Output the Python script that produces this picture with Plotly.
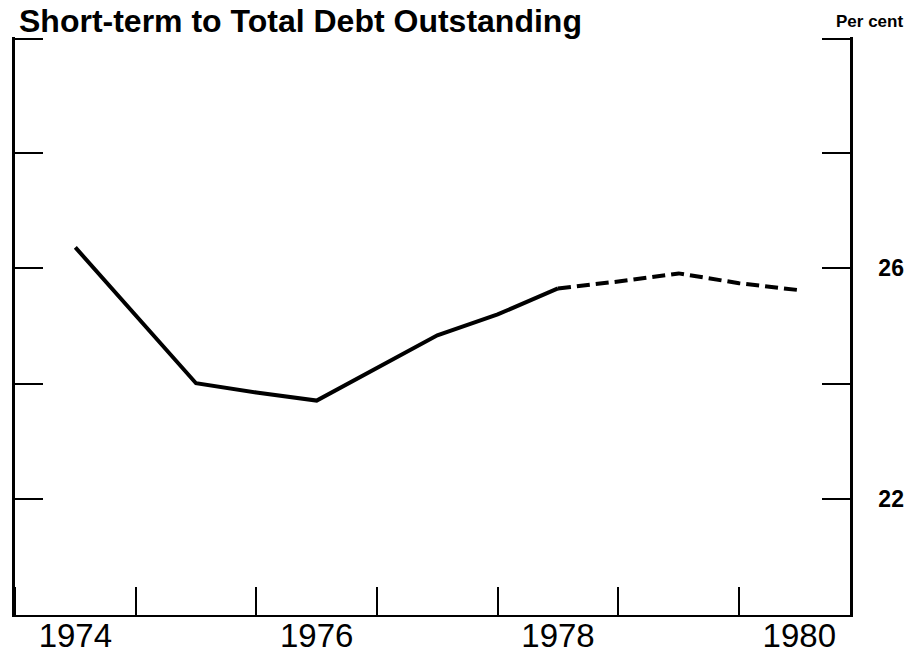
import plotly.graph_objs as go

# semi-annual readings, per cent
solid_x = [1974, 1975, 1975.5, 1976, 1977, 1977.5, 1978]
solid_y = [26.36, 24.01, 23.85, 23.71, 24.84, 25.20, 25.65]
dash_x = [1978, 1978.5, 1979, 1979.5, 1980]
dash_y = [25.65, 25.77, 25.91, 25.74, 25.62]

year_ticks = [1974, 1976, 1978, 1980]
y_ticks = [22, 24, 26, 28, 29.96]
y_labels = ['22', '', '26', '', '']

fig = go.Figure()
fig.add_trace(go.Scatter(x=solid_x, y=solid_y, mode='lines',
                         line=dict(color='black', width=4)))
fig.add_trace(go.Scatter(x=dash_x, y=dash_y, mode='lines', yaxis='y2',
                         line=dict(color='black', width=4, dash='13px,6px')))

# page body has an 8px margin, so the figure is a bit smaller than the window
fig.update_layout(
    width=908, height=647,
    margin=dict(l=7, r=66, t=29, b=40),
    plot_bgcolor='white', paper_bgcolor='white',
    showlegend=False,
    font=dict(family='Liberation Sans, Arial, sans-serif', color='black'),
    xaxis=dict(range=[1973.5, 1980.42], showgrid=False, zeroline=False, automargin=False,
               showline=True, linecolor='black', linewidth=2,
               tickvals=year_ticks, ticks='', tickfont=dict(size=33),
               ticklabelstandoff=-10,
               minor=dict(tick0=1974.5, dtick=1, ticks='inside', ticklen=28,
                          tickwidth=1.5, tickcolor='black', showgrid=False)),
    yaxis=dict(range=[20, 30], showgrid=False, zeroline=False, automargin=False,
               showline=True, linecolor='black', linewidth=2.5,
               tickvals=y_ticks, showticklabels=False,
               ticks='inside', ticklen=28, tickwidth=1.5, tickcolor='black'),
    yaxis2=dict(range=[20, 30], overlaying='y', side='right', showgrid=False,
                zeroline=False, automargin=False,
                showline=True, linecolor='black', linewidth=2.5,
                tickvals=y_ticks, ticktext=y_labels,
                ticks='inside', ticklen=28, tickwidth=1.5, tickcolor='black',
                ticklabelstandoff=21,
                tickfont=dict(size=23, family='Liberation Sans, Arial', weight='bold')),
    annotations=[
        dict(text='<b>Short-term to Total Debt Outstanding</b>', xref='paper', yref='paper',
             x=0.0, y=1.0, xanchor='left', yanchor='bottom', xshift=3, yshift=-3,
             showarrow=False, borderpad=0, font=dict(size=32)),
        dict(text='<b>Per cent</b>', xref='paper', yref='paper',
             x=1.0, y=1.0, xanchor='left', yanchor='bottom', xshift=-16, yshift=4,
             showarrow=False, font=dict(size=17)),
    ],
)

fig.write_html("out.html")
